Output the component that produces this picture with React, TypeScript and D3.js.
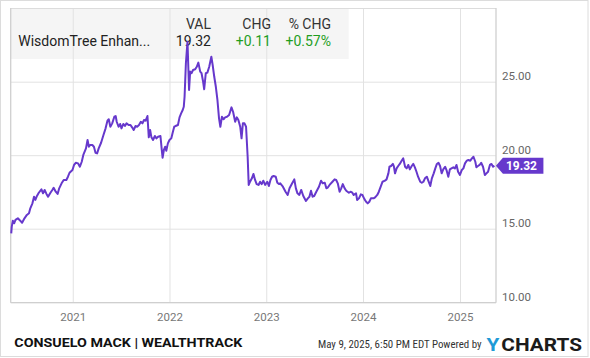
import React, { useEffect } from 'react';
import * as d3 from 'd3';

const dates = [
  '2020-05-12','2020-05-14','2020-05-18','2020-05-23','2020-05-28','2020-06-06','2020-06-15','2020-06-22','2020-07-01','2020-07-10',
  '2020-07-18','2020-07-23','2020-07-31','2020-08-06','2020-08-11','2020-08-17','2020-08-24','2020-09-03','2020-09-09','2020-09-15',
  '2020-09-22','2020-09-28','2020-10-07','2020-10-14','2020-10-19','2020-10-27','2020-11-03','2020-11-09','2020-11-18','2020-11-26',
  '2020-12-06','2020-12-12','2020-12-18','2020-12-29','2021-01-04','2021-01-11','2021-01-19','2021-01-26','2021-02-02','2021-02-08',
  '2021-02-18','2021-02-24','2021-03-01','2021-03-06','2021-03-14','2021-03-20','2021-03-26','2021-04-01','2021-04-07','2021-04-16',
  '2021-04-25','2021-05-03','2021-05-10','2021-05-15','2021-05-21','2021-05-28','2021-06-05','2021-06-10','2021-06-14','2021-06-21',
  '2021-06-27','2021-07-02','2021-07-09','2021-07-15','2021-07-21','2021-07-29','2021-08-05','2021-08-11','2021-08-17','2021-08-24',
  '2021-08-30','2021-09-06','2021-09-13','2021-09-19','2021-09-25','2021-10-01','2021-10-08','2021-10-13','2021-10-18','2021-10-23',
  '2021-10-29','2021-11-05','2021-11-11','2021-11-17','2021-11-26','2021-12-01','2021-12-04','2021-12-09','2021-12-14','2021-12-18',
  '2021-12-24','2021-12-30','2022-01-06','2022-01-12','2022-01-17','2022-01-22','2022-01-31','2022-02-06','2022-02-12','2022-02-18',
  '2022-02-22','2022-02-25','2022-03-02','2022-03-08','2022-03-14','2022-03-18','2022-03-23','2022-03-29','2022-04-06','2022-04-12',
  '2022-04-18','2022-04-25','2022-04-30','2022-05-06','2022-05-10','2022-05-16','2022-05-22','2022-05-29','2022-06-06','2022-06-11',
  '2022-06-17','2022-06-23','2022-06-29','2022-07-05','2022-07-10','2022-07-16','2022-07-22','2022-07-28','2022-08-04','2022-08-12',
  '2022-08-21','2022-08-27','2022-09-04','2022-09-10','2022-09-16','2022-09-23','2022-09-28','2022-10-03','2022-10-09','2022-10-15',
  '2022-10-21','2022-10-25','2022-10-30','2022-11-06','2022-11-12','2022-11-18','2022-11-24','2022-12-01','2022-12-07','2022-12-13',
  '2022-12-19','2022-12-26','2023-01-03','2023-01-09','2023-01-15','2023-01-21','2023-01-27','2023-02-04','2023-02-10','2023-02-17',
  '2023-02-21','2023-03-03','2023-03-13','2023-03-21','2023-03-28','2023-04-07','2023-04-15','2023-04-21','2023-04-27','2023-05-04',
  '2023-05-11','2023-05-19','2023-05-29','2023-06-05','2023-06-11','2023-06-17','2023-06-23','2023-06-29','2023-07-07','2023-07-17',
  '2023-07-25','2023-07-31','2023-08-08','2023-08-14','2023-08-20','2023-08-26','2023-09-06','2023-09-14','2023-09-20','2023-09-26',
  '2023-10-03','2023-10-09','2023-10-15','2023-10-22','2023-10-28','2023-11-07','2023-11-13','2023-11-20','2023-11-25','2023-12-04',
  '2023-12-08','2023-12-15','2023-12-22','2023-12-28','2024-01-05','2024-01-11','2024-01-17','2024-01-23','2024-01-29','2024-02-08',
  '2024-02-14','2024-02-22','2024-02-28','2024-03-06','2024-03-13','2024-03-22','2024-03-28','2024-04-04','2024-04-08','2024-04-14',
  '2024-04-21','2024-04-25','2024-04-29','2024-05-05','2024-05-11','2024-05-17','2024-05-24','2024-05-30','2024-06-06','2024-06-12',
  '2024-06-18','2024-06-24','2024-07-01','2024-07-07','2024-07-13','2024-07-19','2024-07-25','2024-08-02','2024-08-08','2024-08-14',
  '2024-08-20','2024-08-27','2024-09-03','2024-09-09','2024-09-15','2024-09-22','2024-09-28','2024-10-04','2024-10-10','2024-10-16',
  '2024-10-22','2024-10-28','2024-11-04','2024-11-10','2024-11-16','2024-11-22','2024-11-28','2024-12-05','2024-12-11','2024-12-17',
  '2024-12-23','2024-12-30','2025-01-06','2025-01-12','2025-01-18','2025-01-25','2025-01-31','2025-02-07','2025-02-13','2025-02-19',
  '2025-02-26','2025-03-02','2025-03-08','2025-03-14','2025-03-20','2025-03-27','2025-04-03','2025-04-09','2025-04-15','2025-04-22',
  '2025-04-28','2025-05-04','2025-05-09',
];

const values = [
  14.72,15.17,15.58,15.40,15.63,15.74,15.58,15.44,15.74,15.97,
  16.08,16.42,16.76,17.21,16.99,17.26,17.48,17.71,17.44,17.67,
  17.40,17.21,17.48,17.67,17.82,17.55,17.40,17.78,18.12,18.35,
  18.35,18.57,18.84,19.03,19.37,19.52,19.48,19.25,19.59,20.05,
  20.50,21.07,20.61,20.73,20.73,20.61,20.20,20.16,20.50,20.88,
  21.41,21.86,22.38,22.48,21.97,22.20,22.65,22.70,22.31,21.97,
  22.16,21.86,22.16,22.02,22.20,22.09,22.09,21.93,21.75,22.02,
  21.97,22.09,22.31,22.20,22.43,22.38,22.70,21.25,21.75,21.25,
  21.07,21.34,21.18,21.29,21.34,20.39,19.86,20.39,20.61,20.34,
  20.84,21.07,21.18,21.63,21.97,22.02,22.09,22.61,22.88,23.11,
  23.33,24.01,26.29,27.76,24.47,25.72,25.61,25.83,25.88,26.05,
  26.33,25.72,25.61,25.03,24.52,25.61,25.65,26.05,26.73,26.17,
  25.37,24.69,23.79,22.54,21.97,22.65,22.48,22.61,22.65,22.77,
  23.29,22.99,22.31,22.61,22.43,21.97,21.18,22.20,22.20,21.97,
  19.93,18.01,18.23,18.46,18.76,18.35,18.07,18.01,18.23,18.07,
  18.30,18.01,18.23,17.94,18.35,18.57,18.62,18.57,18.16,18.07,
  18.12,17.89,17.55,17.33,17.78,18.12,18.39,17.78,17.44,17.33,
  17.67,17.26,16.92,17.10,17.21,17.62,17.21,17.26,17.55,17.89,
  18.30,18.12,18.16,17.78,17.85,18.01,18.23,18.39,18.35,18.12,
  17.55,17.78,18.07,17.78,17.62,17.48,17.55,17.48,17.33,17.44,
  16.99,17.10,17.37,17.33,17.03,16.87,16.76,16.87,17.10,17.10,
  17.17,17.33,17.55,17.89,18.23,18.30,18.39,18.80,19.25,19.30,
  19.44,19.25,18.80,19.14,19.30,19.44,19.66,19.82,19.25,19.14,
  19.37,19.07,19.30,19.44,19.21,18.91,18.57,18.23,18.16,18.23,
  18.46,18.57,18.23,17.94,18.46,18.80,19.14,19.44,19.52,19.30,
  18.80,19.07,19.25,18.98,18.57,19.07,19.14,19.21,19.14,19.37,
  18.91,18.69,19.03,19.14,19.48,19.66,19.71,19.66,19.82,19.93,
  19.59,19.21,19.30,19.37,19.52,19.25,18.69,18.80,18.91,19.37,
  19.44,19.25,19.32,
];

const yTicks = [10, 15, 20, 25];
const yDomain = [10, 30];
const xTickYears = ['2021', '2022', '2023', '2024', '2025'];
const xDomain = ['2020-05-10', '2025-05-15'];
const legendHeaders = ['VAL', 'CHG', '% CHG'];
const seriesName = 'WisdomTree Enhan...';
const lastValue = '19.32';
const changeValue = '+0.11';
const pctChangeValue = '+0.57%';
const footerLeft = 'CONSUELO MACK | WEALTHTRACK';
const footerRight = 'May 9, 2025, 6:50 PM EDT Powered by';
const logoParts = ['Y', 'CHARTS'];

const W = 590;
const H = 358;
const P = { left: 10.7, right: 496, top: 8.7, bottom: 302.7 };
const PURPLE = '#6638cc';
const GREEN = '#1f9e1f';
const FONT = 'Roboto, "Noto Sans", sans-serif';
const NARROW = '"Liberation Sans Narrow", "Roboto Condensed", Roboto, sans-serif';

export default function App() {
  useEffect(() => {
    document.body.style.margin = '0';
  }, []);

  const parse = d3.timeParse('%Y-%m-%d');
  const data = dates.map((d, i) => ({ date: parse(d) as Date, value: values[i] }));
  const x = d3.scaleTime()
    .domain([parse(xDomain[0]) as Date, parse(xDomain[1]) as Date])
    .range([P.left, P.right]);
  const y = d3.scaleLinear().domain(yDomain).range([P.bottom, P.top]);
  const line = d3.line<{ date: Date; value: number }>()
    .x(d => x(d.date))
    .y(d => y(d.value));

  const last = data[data.length - 1];
  const ly = y(last.value);
  const lx = x(last.date) + 1.5;
  const labelPath = `M${lx},${ly} L${lx + 7},${ly - 8} L${lx + 47.5},${ly - 8} L${lx + 47.5},${ly + 8} L${lx + 7},${ly + 8} Z`;

  const colRight = [211, 271, 331];

  return (
    <svg width={W} height={H} style={{ display: 'block', position: 'absolute', left: 0, top: 0 }}>
      <rect x={0} y={0} width={W} height={H} fill="#fff" />
      <rect x={0.5} y={0.5} width={587.5} height={356} fill="none" stroke="#dcdcdc" strokeWidth={1} />

      {/* legend background */}
      <rect x={P.left} y={8.5} width={338} height={50.5} fill="#f5f5f5" />

      {/* grid */}
      {yTicks.map(t => (
        <line key={'gy' + t} x1={P.left} x2={P.right} y1={y(t)} y2={y(t)} stroke="#e2e2e2" strokeWidth={1} />
      ))}
      {xTickYears.map(yr => {
        const xx = x(parse(yr + '-01-01') as Date);
        return <line key={'gx' + yr} x1={xx} x2={xx} y1={P.top} y2={P.bottom} stroke="#e2e2e2" strokeWidth={1} />;
      })}

      {/* frame */}
      <line x1={P.left} x2={P.right} y1={8.5} y2={8.5} stroke="#dcdcdc" strokeWidth={1} />
      <line x1={P.left} x2={P.left} y1={8} y2={P.bottom} stroke="#cfcfcf" strokeWidth={1.3} />
      <line x1={P.right} x2={P.right} y1={8} y2={P.bottom} stroke="#cfcfcf" strokeWidth={1.3} />
      <line x1={P.left} x2={P.right} y1={P.bottom} y2={P.bottom} stroke="#cfcfcf" strokeWidth={1.3} />

      {/* legend text */}
      <g fontFamily={FONT} fontSize={14}>
        {legendHeaders.map((h, i) => (
          <text key={h} x={colRight[i]} y={29} textAnchor="end" fill="#333">{h}</text>
        ))}
        <text x={18.3} y={45.8} fill="#222">{seriesName}</text>
        <text x={colRight[0]} y={45.8} textAnchor="end" fill="#222">{lastValue}</text>
        <text x={colRight[1]} y={45.8} textAnchor="end" fill={GREEN}>{changeValue}</text>
        <text x={colRight[2]} y={45.8} textAnchor="end" fill={GREEN}>{pctChangeValue}</text>
      </g>

      {/* series */}
      <path d={line(data) || ''} fill="none" stroke={PURPLE} strokeWidth={2} strokeLinejoin="round" />

      {/* y labels */}
      <g fontFamily={FONT} fontSize={11.5} fill="#666">
        {yTicks.map(t => (
          <text key={'yl' + t} x={502} y={y(t) - 2}>{t.toFixed(2)}</text>
        ))}
      </g>
      {/* x labels */}
      <g fontFamily={FONT} fontSize={11.5} fill="#777" textAnchor="middle">
        {xTickYears.map(yr => (
          <text key={'xl' + yr} x={x(parse(yr + '-01-01') as Date)} y={321}>{yr}</text>
        ))}
      </g>

      {/* end label */}
      <path d={labelPath} fill={PURPLE} />
      <text x={lx + 10} y={ly + 4.3} fontFamily={FONT} fontSize={12} fontWeight="bold" fill="#fff">{lastValue}</text>

      {/* footer */}
      <text x={14.3} y={346.7} fontFamily={FONT} fontWeight="bold" fontSize={13} fill="#111"
        textLength={228} lengthAdjust="spacingAndGlyphs">{footerLeft}</text>
      <text x={318} y={348.3} fontFamily={NARROW} fontSize={10.9} fill="#333">{footerRight}</text>
      <text x={486.5} y={350.7} fontFamily={FONT} fontWeight="bold" fontSize={18}
        textLength={95.5} lengthAdjust="spacingAndGlyphs">
        <tspan fill="#1e9ad6">{logoParts[0]}</tspan>
        <tspan fill="#1b1b1b" dx={2}>{logoParts[1]}</tspan>
      </text>
    </svg>
  );
}
